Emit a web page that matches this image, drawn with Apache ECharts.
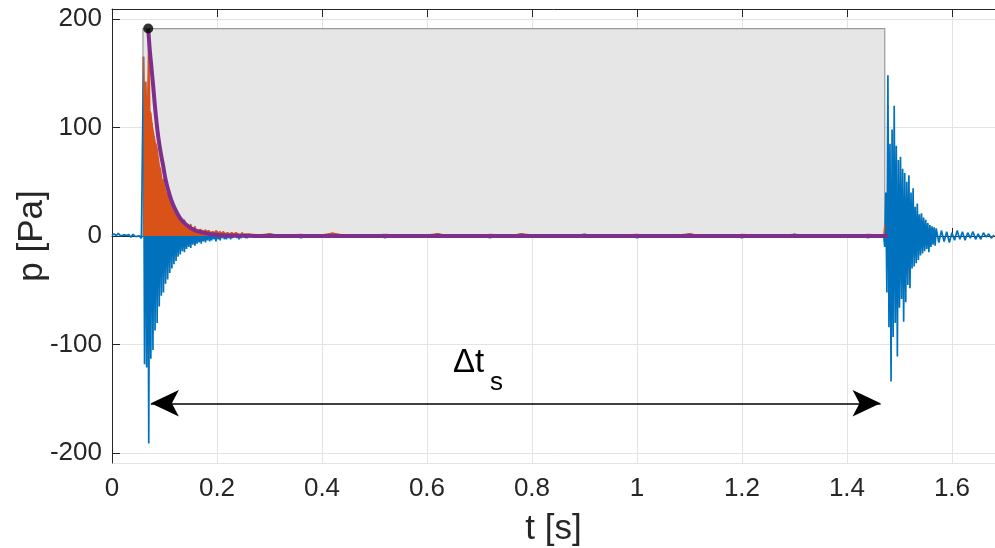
<!DOCTYPE html>
<html>
<head>
<meta charset="utf-8">
<script src="https://cdn.jsdelivr.net/npm/echarts@6/dist/echarts.min.js"></script>
<style>
  html, body { margin: 0; padding: 0; background: #fff; }
  #chart { width: 995px; height: 548px; }
</style>
</head>
<body>
<div id="chart"></div>
<script>
// pressure record
// quiet part before the first burst (t = 0 .. 0.058, step 0.002)
const preStart = 0, preStep = 0.002
const preP = [0.5, 1.2, 2.0, 1.1, 0.3, 1.8, 2.6, 1.4, 0.2, -0.8, 0.6, 1.9, 1.0, -0.5, 0.4,
  2.2, 1.3, 0.1, -1.2, 0.5, 1.6, 0.8, -0.3, -1.6, -0.4, 1.0, 0.2, -1.1, -2.4, -0.6]

// first burst (t = 0.060 .. 0.258, step 0.002)
const burst1Start = 0.060, burst1Step = 0.002
const burst1P = [165, -118, 142, -121, 124, -191, 115, -113, 104, -105,
  92, -87, 84, -80, 72, -65, 62, -55, 50, -52,
  45, -44, 38, -40, 33, -34, 29, -30, 25, -26,
  21, -23, 18, -19, 16, -17, 14, -14, 12, -15,
  11, -12, 9, -10, 8, -11, 7, -8, 7, -9,
  6, -7, 5, -6, 6, -7, 5, -5, 4, -6,
  4, -4, 5, -5, 3, -4, 4, -3, 3, -5,
  4, -3, 3, -4, 3, -2, 4, -3, 2, -3,
  3, -2, 2, -3, 3, -2, 2, -1, 3, -2,
  2, -3, 1, -2, 3, -1, 2, -2, 1, -2]

// quiet part between the bursts (t = 0.26 .. 1.46, step 0.02)
const midStart = 0.26, midStep = 0.02
const midP = [1.5, -1, 2, -0.5, 1, -1.5, 0.5, -1, 2.5, -1, 0.5, -0.5, 1, -1.5, 1, -0.5, 0.5, -1, 2, -0.5,
  1, -1, 0.5, -1.5, 1, -0.5, 2, -1, 0.5, -0.5, 1, -1, 1.5, -0.5, 0.5, -1, 1, -1.5, 0.5, -0.5,
  1, -1, 2, -0.5, 1, -1, 0.5, -1.5, 1, -0.5, 0.5, -1, 1.5, -1, 0.5, -0.5, 1, -1, 0.5, -1.5, 1]

// second burst (t = 1.470 .. 1.570, step 0.002)
const burst2Start = 1.470, burst2Step = 0.002
const burst2P = [0, -10, 40, -52, 148, -84, 85, -134, 98, -93,
  120, -80, 83, -111, 70, -66, 73, -58, 62, -79,
  58, -61, 50, -45, 56, -48, 40, -30, 44, -28,
  27, -25, 30, -22, 20, -18, 21, -16, 17, -14,
  15, -12, 12, -15, 10, -10, 9, -8, 8, -9, 7]

// tail (t = 1.575 .. 1.680, step 0.005)
const tailStart = 1.575, tailStep = 0.005
const tailP = [-6, 5, -5, 4, -6, 3, -4, 5, -3, 4, -4, 3, -2, 4, -3, 2, -3, 3, -1, 2, -2, 1]

// envelope A(t)
const envT = [0.069, 0.072, 0.0756, 0.079, 0.0819, 0.085, 0.0882, 0.093, 0.0977, 0.102, 0.1072,
  0.113, 0.12, 0.129, 0.139, 0.148, 0.158, 0.17, 0.183, 0.209, 0.25, 0.3, 1.478]
const envA = [191, 171, 153, 135, 119, 104, 91, 76, 64, 52, 42,
  33, 25, 17, 11.4, 8, 5.2, 3.5, 2.2, 0.6, 0.2, 0, 0]

// peak, SEL window and the Δt_s arrow
const pmaxT = 0.069, pmaxV = 191
const selStart = 0.059, selEnd = 1.472
const dtStart = 0.074, dtEnd = 1.464, dtLevel = -154

const blue = '#0072BD', orange = '#D95319', purple = '#7E2F8E'
const font = '"Liberation Sans", Arial, sans-serif'

// build (t, p) pairs
const pData = []
const addSeg = (start, step, vals) => {
    vals.forEach((v, i) => pData.push([+(start + i * step).toFixed(4), v]))
}
addSeg(preStart, preStep, preP)
addSeg(burst1Start, burst1Step, burst1P)
addSeg(midStart, midStep, midP)
addSeg(burst2Start, burst2Step, burst2P)
addSeg(tailStart, tailStep, tailP)

// |p(t)| inside the SEL window only
const absData = pData.filter(d => d[0] >= selStart && d[0] <= selEnd).map(d => [d[0], Math.abs(d[1])])
const envData = envT.map((t, i) => [t, envA[i]])

const chart = echarts.init(document.getElementById('chart'))

const axisColor = '#262626'
const gridColor = '#e3e3e3'

const option = {
    animation: false,
    grid: { left: 112, right: 0, top: 9, bottom: 85, outerBoundsMode: 'none', containLabel: false },
    xAxis: [{
        type: 'value',
        min: 0,
        max: 1.682,
        interval: 0.2,
        name: 't [s]',
        nameLocation: 'middle',
        nameGap: 49,
        nameTextStyle: { fontFamily: font, fontSize: 35, color: axisColor },
        axisLine: { lineStyle: { color: axisColor, width: 1 } },
        axisTick: { inside: true, length: 8, lineStyle: { color: axisColor } },
        axisLabel: { fontFamily: font, fontSize: 26, color: axisColor, margin: 13, showMaxLabel: false },
        splitLine: { show: true, lineStyle: { color: gridColor, width: 1 } }
    }, {
        type: 'value',
        position: 'top',
        min: 0,
        max: 1.682,
        interval: 0.2,
        axisLine: { lineStyle: { color: axisColor, width: 1 } },
        axisTick: { inside: true, length: 8, lineStyle: { color: axisColor } },
        axisLabel: { show: false },
        splitLine: { show: false }
    }],
    yAxis: {
        type: 'value',
        min: -209,
        max: 209,
        splitNumber: 4,
        name: 'p [Pa]',
        nameLocation: 'middle',
        nameGap: 62,
        nameMoveOverlap: false,
        nameTextStyle: { fontFamily: font, fontSize: 35, color: axisColor },
        axisLine: { show: true, lineStyle: { color: axisColor, width: 1 } },
        axisTick: { show: true, inside: true, length: 8, lineStyle: { color: axisColor } },
        axisLabel: { fontFamily: font, fontSize: 26, color: axisColor, margin: 10, showMinLabel: false, showMaxLabel: false },
        splitLine: { show: true, lineStyle: { color: gridColor, width: 1 } }
    },
    series: [
        {
            name: 'SEL0',
            type: 'line',
            data: [],
            silent: true,
            z: 1,
            markArea: {
                silent: true,
                itemStyle: { color: '#e6e6e6', borderColor: '#9a9a9a', borderWidth: 1.2 },
                data: [[{ coord: [selStart, pmaxV] }, { coord: [selEnd, 0] }]]
            },
            markLine: {
                silent: true,
                symbol: ['arrow', 'arrow'],
                symbolSize: [20, 28],
                label: { show: false },
                lineStyle: { color: '#000', width: 1.5, type: 'solid' },
                data: [[{ coord: [dtStart, dtLevel] }, { coord: [dtEnd, dtLevel] }]]
            }
        },
        {
            name: 'p(t)',
            type: 'line',
            z: 2,
            data: pData,
            showSymbol: false,
            lineStyle: { color: blue, width: 1.7 },
            itemStyle: { color: blue }
        },
        {
            name: '|p(t)|',
            type: 'line',
            z: 3,
            data: absData,
            showSymbol: false,
            lineStyle: { color: orange, width: 1.4 },
            itemStyle: { color: orange },
            areaStyle: { color: orange, opacity: 1 }
        },
        {
            name: 'A(t)',
            type: 'line',
            z: 4,
            data: envData,
            smooth: 0.3,
            showSymbol: false,
            lineStyle: { color: purple, width: 4 },
            itemStyle: { color: purple }
        },
        {
            name: 'Pmax',
            type: 'scatter',
            z: 5,
            data: [[pmaxT, pmaxV]],
            symbolSize: 10,
            itemStyle: { color: '#000' }
        }
    ],
    graphic: [
        // Δt_s annotation
        { type: 'text', style: { text: 'Δt', x: 453, y: 379, font: '33px ' + font, fill: '#000', verticalAlign: 'bottom' } },
        { type: 'text', style: { text: 's', x: 490, y: 396, font: '26px ' + font, fill: '#000', verticalAlign: 'bottom' } },
        // legend
        { type: 'rect', shape: { x: 483.5, y: 36.5, width: 154, height: 165 }, style: { fill: '#fff', stroke: axisColor, lineWidth: 1 } },
        { type: 'rect', shape: { x: 492.5, y: 49.5, width: 80, height: 20 }, style: { fill: '#e6e6e6', stroke: '#9a9a9a', lineWidth: 1 } },
        { type: 'text', style: { text: 'SEL', x: 578, y: 58, font: '24px ' + font, fill: '#000', verticalAlign: 'middle' } },
        { type: 'text', style: { text: '0', x: 617, y: 68, font: '17px ' + font, fill: '#000', verticalAlign: 'middle' } },
        { type: 'line', shape: { x1: 492, y1: 91, x2: 572, y2: 91 }, style: { stroke: blue, lineWidth: 1 } },
        { type: 'text', style: { text: 'p(t)', x: 578, y: 90, font: '24px ' + font, fill: '#000', verticalAlign: 'middle' } },
        { type: 'line', shape: { x1: 492, y1: 119, x2: 572, y2: 119 }, style: { stroke: orange, lineWidth: 1 } },
        { type: 'text', style: { text: '|p(t)|', x: 578, y: 118, font: '24px ' + font, fill: '#000', verticalAlign: 'middle' } },
        { type: 'line', shape: { x1: 492, y1: 147, x2: 572, y2: 147 }, style: { stroke: purple, lineWidth: 4 } },
        { type: 'text', style: { text: 'A(t)', x: 578, y: 146, font: '24px ' + font, fill: '#000', verticalAlign: 'middle' } },
        { type: 'circle', shape: { cx: 532, cy: 176, r: 4.5 }, style: { fill: '#000' } },
        { type: 'text', style: { text: 'P', x: 578, y: 172, font: '24px ' + font, fill: '#000', verticalAlign: 'middle' } },
        { type: 'text', style: { text: 'max', x: 595, y: 188, font: '17px ' + font, fill: '#000', verticalAlign: 'middle' } }
    ]
}

chart.setOption(option)
</script>
</body>
</html>
